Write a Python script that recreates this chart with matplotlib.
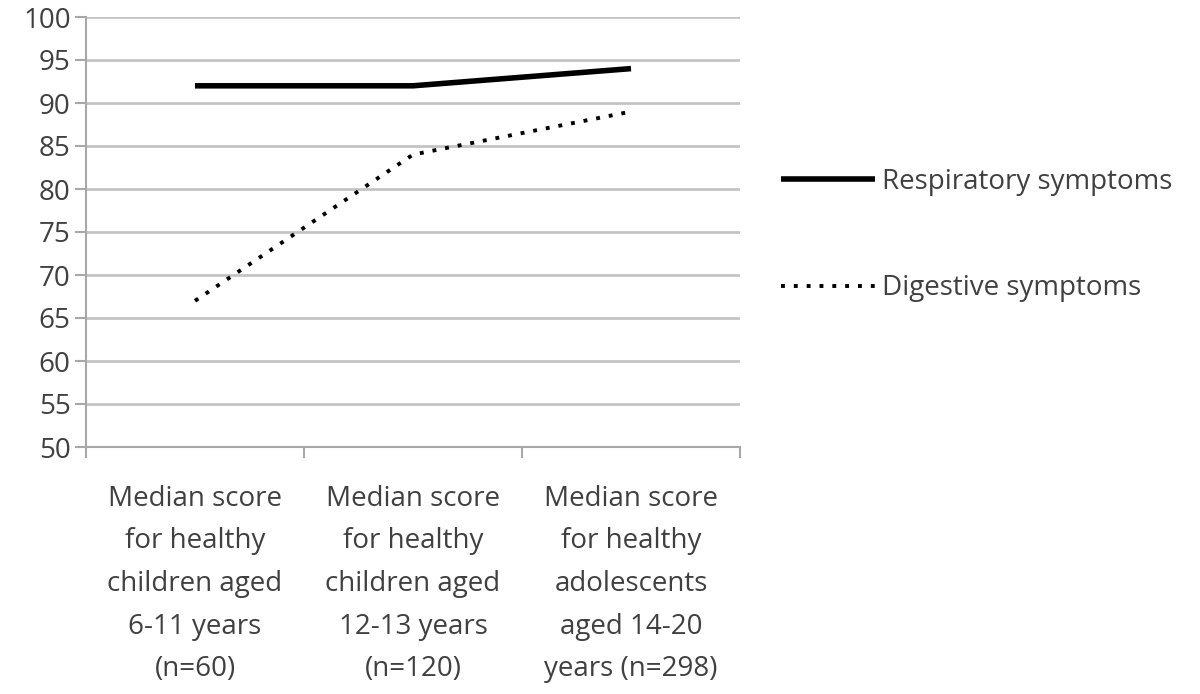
import matplotlib
matplotlib.use("Agg")
import matplotlib.pyplot as plt
from matplotlib.ticker import FixedLocator

categories = [
    "Median score\nfor healthy\nchildren aged\n6-11 years\n(n=60)",
    "Median score\nfor healthy\nchildren aged\n12-13 years\n(n=120)",
    "Median score\nfor healthy\nadolescents\naged 14-20\nyears (n=298)",
]
respiratory = [92, 92, 94]
digestive = [67, 84, 89]
yticks = list(range(50, 101, 5))

plt.rcParams['font.family'] = ['Open Sans', 'DejaVu Sans']
txt = '#404040'
grid = '#c4c4c4'
fs = 20

fig = plt.figure(figsize=(12, 6.94), dpi=100)
ax = fig.add_axes([86/1200, 1-447/694, (740-86)/1200, (447-17)/694])

x = list(range(len(categories)))
l1, = ax.plot(x, respiratory, color='black', lw=4.0, solid_capstyle='butt',
              label='Respiratory symptoms')
l2, = ax.plot(x, digestive, color='black', lw=2.8, linestyle=(0, (1.0, 2.3)),
              dash_capstyle='butt', label='Digestive symptoms')

ax.set_xlim(-0.5, 2.5)
ax.set_ylim(50, 100)
ax.set_yticks(yticks)
ax.yaxis.grid(True, color=grid, lw=2)
ax.set_axisbelow(True)
ax.xaxis.set_major_locator(FixedLocator([-0.5, 0.5, 1.5, 2.5]))
ax.xaxis.set_minor_locator(FixedLocator(x))
ax.set_xticklabels([], minor=False)
ax.set_xticklabels(categories, minor=True, fontsize=fs, color=txt, linespacing=1.70)
ax.tick_params(axis='x', which='major', length=8, width=1.5, color='#a8a8a8', direction='out')
ax.tick_params(axis='x', which='minor', length=0, pad=27)
ax.tick_params(axis='y', length=8, width=1.5, color='#a8a8a8', labelsize=fs,
               labelcolor=txt, pad=3)
for s in ['top', 'right']:
    ax.spines[s].set_visible(False)
for s in ['left', 'bottom']:
    ax.spines[s].set_color('#a8a8a8')
    ax.spines[s].set_linewidth(1.5)

fig.legend(handles=[l1, l2], loc='center left', bbox_to_anchor=(756/1200, 1-235/694),
           frameon=False, fontsize=fs, handlelength=3.4, handletextpad=0.25,
           labelspacing=2.84, labelcolor=txt)

fig.savefig('out.png', dpi=100)
